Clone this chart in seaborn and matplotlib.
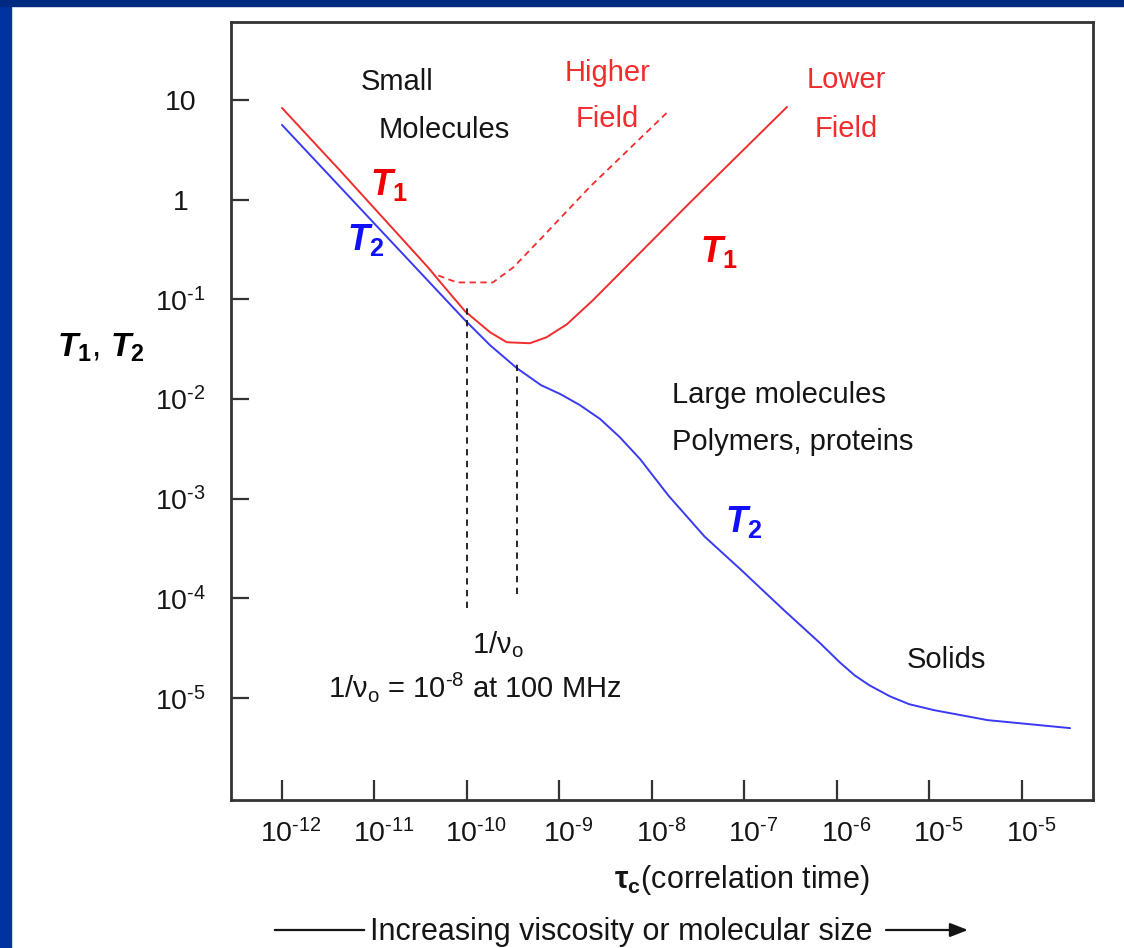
import numpy as np
import pandas as pd
import matplotlib
matplotlib.use("Agg")
import matplotlib.pyplot as plt
import matplotlib.transforms as mtrans
from matplotlib import font_manager
from matplotlib.patches import Rectangle
import seaborn as sns

sns.set_theme(style="white")

# pick a narrow sans if it is there, the slide text is tall and thin
names = {f.name for f in font_manager.fontManager.ttflist}
if "Liberation Sans Narrow" in names:
    fam = "Liberation Sans Narrow"
    fs, fs_tick, fs_T, fs_ylab = 25, 24, 31, 29
else:
    fam = "Liberation Sans"
    fs, fs_tick, fs_T, fs_ylab = 21, 20.5, 26, 24

plt.rcParams["font.family"] = [fam, "DejaVu Sans"]
plt.rcParams["mathtext.fontset"] = "custom"
plt.rcParams["mathtext.rm"] = fam
plt.rcParams["mathtext.sf"] = fam
plt.rcParams["mathtext.it"] = fam + ":italic"
plt.rcParams["mathtext.bf"] = fam + ":bold"
try:
    plt.rcParams["mathtext.bfit"] = fam + ":italic:bold"
except KeyError:
    pass

# ---- data (log10 values) ----
t2_tau = [-12.00, -10.94, -10.02, -9.75, -9.46, -9.20, -8.99, -8.78, -8.56, -8.35, -8.13,
          -7.82, -7.43, -7.04, -6.57, -6.18, -5.97, -5.81, -5.65, -5.43, -5.22, -4.95, -4.37, -3.48]
t2_val = [0.75, -0.30, -1.21, -1.46, -1.69, -1.86, -1.95, -2.06, -2.20, -2.38, -2.60,
          -2.97, -3.38, -3.71, -4.12, -4.45, -4.64, -4.77, -4.87, -4.98, -5.06, -5.12, -5.22, -5.30]

t1_low_tau = [-12.00, -11.37, -10.42, -10.24, -10.02, -9.75, -9.57, -9.32, -9.14,
              -8.92, -8.64, -7.59, -6.54]
t1_low_val = [0.92, 0.29, -0.68, -0.88, -1.12, -1.33, -1.43, -1.44, -1.38,
              -1.25, -1.01, -0.03, 0.93]

t1_high_tau = [-10.31, -10.11, -9.72, -9.50, -9.21, -8.67, -7.83]
t1_high_val = [-0.76, -0.83, -0.83, -0.68, -0.40, 0.13, 0.88]

# the two 1/nu_o markers
mark_tau = [-10.00, -9.46]
mark_top = [-1.06, -1.61]
mark_bot = [-4.10, -3.95]

hy = "\u2010"
xtick_exp = [-12, -11, -10, -9, -8, -7, -6, -5, -4]
xtick_lab = ["12", "11", "10", "9", "8", "7", "6", "5", "5"]
ytick_exp = [1, 0, -1, -2, -3, -4, -5]
ytick_lab = ["10", "1"] + ["$\\mathregular{10^{%s%d}}$" % (hy, k) for k in [1, 2, 3, 4, 5]]

t2 = pd.DataFrame({"tau": np.power(10.0, t2_tau), "T": np.power(10.0, t2_val)})
t1_low = pd.DataFrame({"tau": np.power(10.0, t1_low_tau), "T": np.power(10.0, t1_low_val)})
t1_high = pd.DataFrame({"tau": np.power(10.0, t1_high_tau), "T": np.power(10.0, t1_high_val)})

red = "#f22c2c"
blue = "#3a3af2"
dark = "#151515"

fig = plt.figure(figsize=(11.24, 9.48), dpi=100)
fig.patch.set_facecolor("white")
ax = fig.add_axes([231 / 1124, 1 - 800 / 948, 862 / 1124, 778 / 948])
ax.set_xscale("log")
ax.set_yscale("log")

sns.lineplot(data=t2, x="tau", y="T", ax=ax, color=blue, lw=1.4, estimator=None, sort=False)
sns.lineplot(data=t1_low, x="tau", y="T", ax=ax, color=red, lw=1.4, estimator=None, sort=False)
sns.lineplot(data=t1_high, x="tau", y="T", ax=ax, color=red, lw=1.3, estimator=None,
             sort=False, linestyle=(0, (3.5, 2.5)))
ax.vlines(np.power(10.0, mark_tau), np.power(10.0, mark_bot), np.power(10.0, mark_top),
          colors=dark, lw=1.3, linestyles=(0, (3.5, 3)))

ax.set_xlim(10 ** -12.551, 10 ** -3.232)
ax.set_ylim(10 ** -6.021, 10 ** 1.782)
ax.minorticks_off()
ax.set_xticks(np.power(10.0, xtick_exp))
ax.set_xticklabels(["$\\mathregular{10^{%s%s}}$" % (hy, s) for s in xtick_lab])
ax.set_yticks(np.power(10.0, ytick_exp))
ax.set_yticklabels(ytick_lab, ha="center")
ax.tick_params(axis="both", direction="in", width=1.6, color="#333333",
               labelsize=fs_tick, labelcolor=dark, left=True, bottom=True,
               top=False, right=False)
ax.tick_params(axis="y", length=13, pad=36.5)
ax.tick_params(axis="x", length=14.5, pad=14)
for sp in ax.spines.values():
    sp.set_visible(True)
    sp.set_linewidth(2)
    sp.set_color("#333333")

# the "10" of each x label sits on the tick, the exponent hangs to the right
shift = mtrans.ScaledTranslation(0.09, 0, fig.dpi_scale_trans)
for lab in ax.get_xticklabels():
    lab.set_transform(lab.get_transform() + shift)

def X(e):
    return 10 ** e

txt = dict(fontsize=fs, va="baseline")
ax.text(X(-10.757), X(1.100), "Small", color=dark, ha="center", **txt)
ax.text(X(-10.249), X(0.619), "Molecules", color=dark, ha="center", **txt)
ax.text(X(-8.476), X(1.191), "Higher", color=red, ha="center", **txt)
ax.text(X(-8.486), X(0.729), "Field", color=red, ha="center", **txt)
ax.text(X(-5.903), X(1.120), "Lower", color=red, ha="center", **txt)
ax.text(X(-5.903), X(0.629), "Field", color=red, ha="center", **txt)
ax.text(X(-7.784), X(-2.039), "Large molecules", color=dark, ha="left", **txt)
ax.text(X(-7.784), X(-2.511), "Polymers, proteins", color=dark, ha="left", **txt)
ax.text(X(-4.822), X(-4.697), "Solids", color=dark, ha="center", **txt)
ax.text(X(-9.665), X(-4.547), "1/ν$_{\\mathregular{o}}$", color=dark, ha="center", **txt)
ax.text(X(-9.914), X(-4.988),
        "1/ν$_{\\mathregular{o}}$ = 10$^{\\mathregular{%s8}}$ at 100 MHz" % hy,
        color=dark, ha="center", **txt)

tl = dict(fontsize=fs_T, va="baseline", ha="left")
ax.text(X(-11.049), X(0.047), "$\\mathbfit{T}_{\\mathbf{1}}$", color="#f00000", **tl)
ax.text(X(-11.297), X(-0.505), "$\\mathbfit{T}_{\\mathbf{2}}$", color="#1010ff", **tl)
ax.text(X(-7.481), X(-0.625), "$\\mathbfit{T}_{\\mathbf{1}}$", color="#f00000", **tl)
ax.text(X(-7.211), X(-3.333), "$\\mathbfit{T}_{\\mathbf{2}}$", color="#1010ff", **tl)

ax.set_ylabel("$\\mathbfit{T}_{\\mathbf{1}}$, $\\mathbfit{T}_{\\mathbf{2}}$",
              fontsize=fs_ylab, rotation=0, ha="left", va="baseline", color="black")
ax.yaxis.set_label_coords(-0.2019, 0.5694)
ax.set_xlabel("$\\mathbf{\\tau}_{\\mathbf{c}}$(correlation time)", fontsize=fs + 1,
              ha="center", va="baseline", color=dark)
ax.xaxis.set_label_coords(0.5928, -0.1131)

# bottom caption with its two arrows
fig.text(621 / 1124, 8 / 948, "Increasing viscosity or molecular size", fontsize=fs + 1,
         ha="center", va="baseline", color=dark)
ax.annotate("", xy=(367, 18), xytext=(272, 18), xycoords="figure pixels",
            textcoords="figure pixels", arrowprops=dict(arrowstyle="-", lw=1.6, color=dark))
ax.annotate("", xy=(968, 18), xytext=(886, 18), xycoords="figure pixels",
            textcoords="figure pixels",
            arrowprops=dict(arrowstyle="-|>,head_length=0.9,head_width=0.35", lw=1.6,
                            color=dark, shrinkA=0, shrinkB=0))

# slide frame
fig.patches.append(Rectangle((0, 0), 11 / 1124, 1, transform=fig.transFigure,
                             color="#0033a0", zorder=10))
fig.patches.append(Rectangle((0, 1 - 6 / 948), 1, 6 / 948, transform=fig.transFigure,
                             color="#002a7f", zorder=10))

fig.savefig("out.png", dpi=100, facecolor="white")
